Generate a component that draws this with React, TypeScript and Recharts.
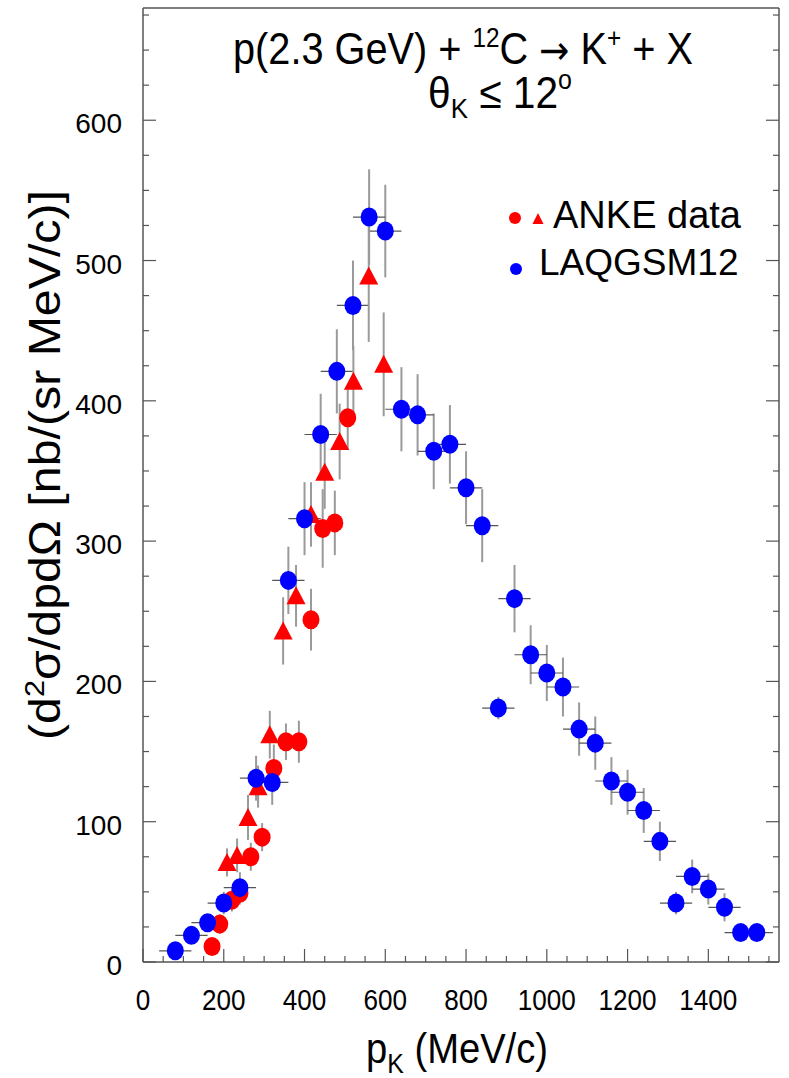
import React from "react";
import { ScatterChart, Scatter, XAxis, YAxis, ErrorBar } from "recharts";

// LAQGSM12 model points (p_K in MeV/c, cross section in nb/(sr MeV/c))
const laqX = [80, 120, 160, 200, 240, 280, 320, 360, 400, 440, 480, 520, 560, 600, 640, 680, 720, 760, 800, 840, 880, 920, 960, 1000, 1040, 1080, 1120, 1160, 1200, 1240, 1280, 1320, 1360, 1400, 1440, 1480, 1520];
const laqY = [8, 19, 28, 42, 53, 131, 128, 272, 316, 376, 421, 468, 531, 521, 394, 390, 364, 369, 338, 311, 181, 259, 219, 206, 196, 166, 156, 129, 121, 108, 86, 42, 61, 52, 39, 21, 21];
const laqErr = [4, 5, 6, 8, 11, 16, 16, 24, 26, 29, 30, 32, 34, 33, 30, 29, 27, 28, 26, 26, 8, 24, 21, 20, 21, 19, 19, 17, 16, 16, 14, 8, 12, 11, 10, 6, 6];
const laqBin = 40;

// ANKE data, circles
const ankeCircX = [171, 190, 220, 240, 267, 295, 324, 354, 386, 416, 445, 475, 507];
const ankeCircY = [11, 27, 44, 49, 75, 89, 138, 157, 157, 244, 309, 313, 388];
const ankeCircErr = [6, 7, 8, 8, 10, 10, 17, 13, 15, 22, 28, 23, 23];

// ANKE data, triangles
const ankeTriX = [208, 233, 260, 285, 314, 347, 379, 416, 450, 487, 521, 559, 596];
const ankeTriY = [71, 76, 103, 125, 162, 236, 261, 319, 349, 371, 414, 489, 426];
const ankeTriErr = [10, 12, 16, 15, 17, 24, 22, 23, 26, 27, 25, 47, 37];

const xTicks = [0, 50, 100, 150, 200, 250, 300, 350, 400, 450, 500, 550, 600, 650, 700, 750, 800, 850, 900, 950, 1000, 1050, 1100, 1150, 1200, 1250, 1300, 1350, 1400, 1450, 1500, 1550];
const xLabels = [0, 200, 400, 600, 800, 1000, 1200, 1400];
const yTicks = [0, 25, 50, 75, 100, 125, 150, 175, 200, 225, 250, 275, 300, 325, 350, 375, 400, 425, 450, 475, 500, 525, 550, 575, 600, 625, 650, 675];
const yLabels = [0, 100, 200, 300, 400, 500, 600];

const laqData = laqX.map((x, i) => ({ x, y: laqY[i], ey: laqErr[i], ex: laqBin }));
const circData = ankeCircX.map((x, i) => ({ x, y: ankeCircY[i], ey: ankeCircErr[i] }));
const triData = ankeTriX.map((x, i) => ({ x, y: ankeTriY[i], ey: ankeTriErr[i] }));

const FONT = '"Liberation Sans", Arial, Helvetica, sans-serif';
const AXIS = "#555";
const BAR_V = "#9a9a9a";
const BAR_H = "#555";

const majorX = (v: number) => v % 200 === 0;
const majorY = (v: number) => v % 100 === 0;

function BottomTick(props: any) {
  const { x, y, payload } = props;
  const v = payload.value;
  const big = majorX(v);
  return (
    <g>
      <line x1={x} x2={x} y1={y} y2={y - (big ? 13 : 6)} stroke={AXIS} strokeWidth={1.2} />
      {xLabels.includes(v) ? (
        <text transform={`translate(${x},${y + 48}) scale(0.9,1)`} textAnchor="middle" fontSize={29} fill="#000" fontFamily={FONT}>
          {v}
        </text>
      ) : null}
    </g>
  );
}

function TopTick(props: any) {
  const { x, y, payload } = props;
  const big = majorX(payload.value);
  return <line x1={x} x2={x} y1={y} y2={y + (big ? 13 : 6)} stroke={AXIS} strokeWidth={1.2} />;
}

function LeftTick(props: any) {
  const { x, y, payload } = props;
  const v = payload.value;
  const big = majorY(v);
  return (
    <g>
      <line x1={x} x2={x + (big ? 13 : 6)} y1={y} y2={y} stroke={AXIS} strokeWidth={1.2} />
      {yLabels.includes(v) ? (
        <text x={x - 21} y={y + 13} textAnchor="end" fontSize={28} fill="#000" fontFamily={FONT}>
          {v}
        </text>
      ) : null}
    </g>
  );
}

function RightTick(props: any) {
  const { x, y, payload } = props;
  const big = majorY(payload.value);
  return <line x1={x} x2={x - (big ? 13 : 6)} y1={y} y2={y} stroke={AXIS} strokeWidth={1.2} />;
}

const circleShape = (color: string) => (p: any) => (
  <ellipse cx={p.cx} cy={p.cy} rx={8.5} ry={9.5} fill={color} />
);

const triangleShape = (p: any) => (
  <polygon
    points={`${p.cx},${p.cy - 9.5} ${p.cx - 9.5},${p.cy + 8.5} ${p.cx + 9.5},${p.cy + 8.5}`}
    fill="#ff0000"
  />
);

const noShape = () => <g />;

export default function App() {
  return (
    <div style={{ position: "absolute", left: 0, top: 0, width: 789, height: 1078, background: "#fff" }}>
      <ScatterChart width={789} height={1078} margin={{ top: 7, right: 9, bottom: 0, left: 0 }} style={{ fontFamily: FONT }}>
        <XAxis
          type="number"
          dataKey="x"
          domain={[0, 1575]}
          allowDataOverflow
          ticks={xTicks}
          interval={0}
          height={116}
          tickSize={0}
          tickMargin={0}
          tickLine={false}
          axisLine={{ stroke: AXIS, strokeWidth: 1.5 }}
          tick={BottomTick}
        />
        <XAxis
          xAxisId="top"
          orientation="top"
          type="number"
          domain={[0, 1575]}
          allowDataOverflow
          ticks={xTicks}
          interval={0}
          height={1}
          tickSize={0}
          tickMargin={0}
          tickLine={false}
          axisLine={{ stroke: AXIS, strokeWidth: 1.5 }}
          tick={TopTick}
        />
        <YAxis
          type="number"
          dataKey="y"
          domain={[0, 680]}
          allowDataOverflow
          ticks={yTicks}
          interval={0}
          width={143}
          tickSize={0}
          tickMargin={0}
          tickLine={false}
          axisLine={{ stroke: AXIS, strokeWidth: 1.5 }}
          tick={LeftTick}
        />
        <YAxis
          yAxisId="right"
          orientation="right"
          type="number"
          domain={[0, 680]}
          allowDataOverflow
          ticks={yTicks}
          interval={0}
          width={1}
          tickSize={0}
          tickMargin={0}
          tickLine={false}
          axisLine={{ stroke: AXIS, strokeWidth: 1.5 }}
          tick={RightTick}
        />

        {/* model error bars first so the data markers sit above them */}
        <Scatter data={laqData} shape={noShape} isAnimationActive={false} legendType="none">
          <ErrorBar dataKey="ey" direction="y" width={0} stroke={BAR_V} strokeWidth={2} />
          <ErrorBar dataKey="ex" direction="x" width={0} stroke={BAR_H} strokeWidth={1.2} />
        </Scatter>
        <Scatter data={circData} shape={circleShape("#ff0000")} isAnimationActive={false}>
          <ErrorBar dataKey="ey" direction="y" width={0} stroke={BAR_V} strokeWidth={2} />
        </Scatter>
        <Scatter data={triData} shape={triangleShape} isAnimationActive={false}>
          <ErrorBar dataKey="ey" direction="y" width={0} stroke={BAR_V} strokeWidth={2} />
        </Scatter>
        <Scatter data={laqData} shape={circleShape("#0000ff")} isAnimationActive={false} />

        {/* reaction title */}
        <text x={463} y={64} textAnchor="middle" fontSize={44} fontFamily={FONT} fill="#000" textLength={460} lengthAdjust="spacingAndGlyphs">
          p(2.3 GeV) +{" "}
          <tspan fontSize={27} dy={-17}>12</tspan>
          <tspan dy={17}>{"C "}</tspan>
          <tspan fontFamily='"DejaVu Sans", sans-serif' fontSize={40}>{"\u2192"}</tspan>
          <tspan>{" K"}</tspan>
          <tspan fontSize={27} dy={-17}>+</tspan>
          <tspan dy={17}>{" + X"}</tspan>
        </text>
        <text x={500} y={108} textAnchor="middle" fontSize={44} fontFamily={FONT} fill="#000" textLength={144} lengthAdjust="spacingAndGlyphs">
          {"\u03b8"}
          <tspan fontSize={28} dy={10}>K</tspan>
          <tspan dy={-10}>{" \u2264 12"}</tspan>
          <tspan fontSize={27} dy={-19}>o</tspan>
        </text>

        {/* legend */}
        <circle cx={515} cy={218} r={6} fill="#ff0000" />
        <polygon points="538,213 532.5,224 543.5,224" fill="#ff0000" />
        <text x={553} y={228} fontSize={38} fontFamily={FONT} fill="#000">ANKE data</text>
        <circle cx={516} cy={269} r={6} fill="#0000ff" />
        <text x={539} y={275} fontSize={37} fontFamily={FONT} fill="#000">LAQGSM12</text>

        {/* axis titles */}
        <text x={457} y={1063} textAnchor="middle" fontSize={43} fontFamily={FONT} fill="#000" textLength={182} lengthAdjust="spacingAndGlyphs">
          p<tspan fontSize={28} dy={10}>K</tspan>
          <tspan dy={-10}>{" (MeV/c)"}</tspan>
        </text>
        <text transform="translate(60,465) rotate(-90)" textAnchor="middle" fontSize={44} fontFamily={FONT} fill="#000" textLength={550} lengthAdjust="spacingAndGlyphs">
          (d<tspan fontSize={28} dy={-16}>2</tspan>
          <tspan dy={16}>{"\u03c3/dpd\u03a9 [nb/(sr MeV/c)]"}</tspan>
        </text>
      </ScatterChart>
    </div>
  );
}
